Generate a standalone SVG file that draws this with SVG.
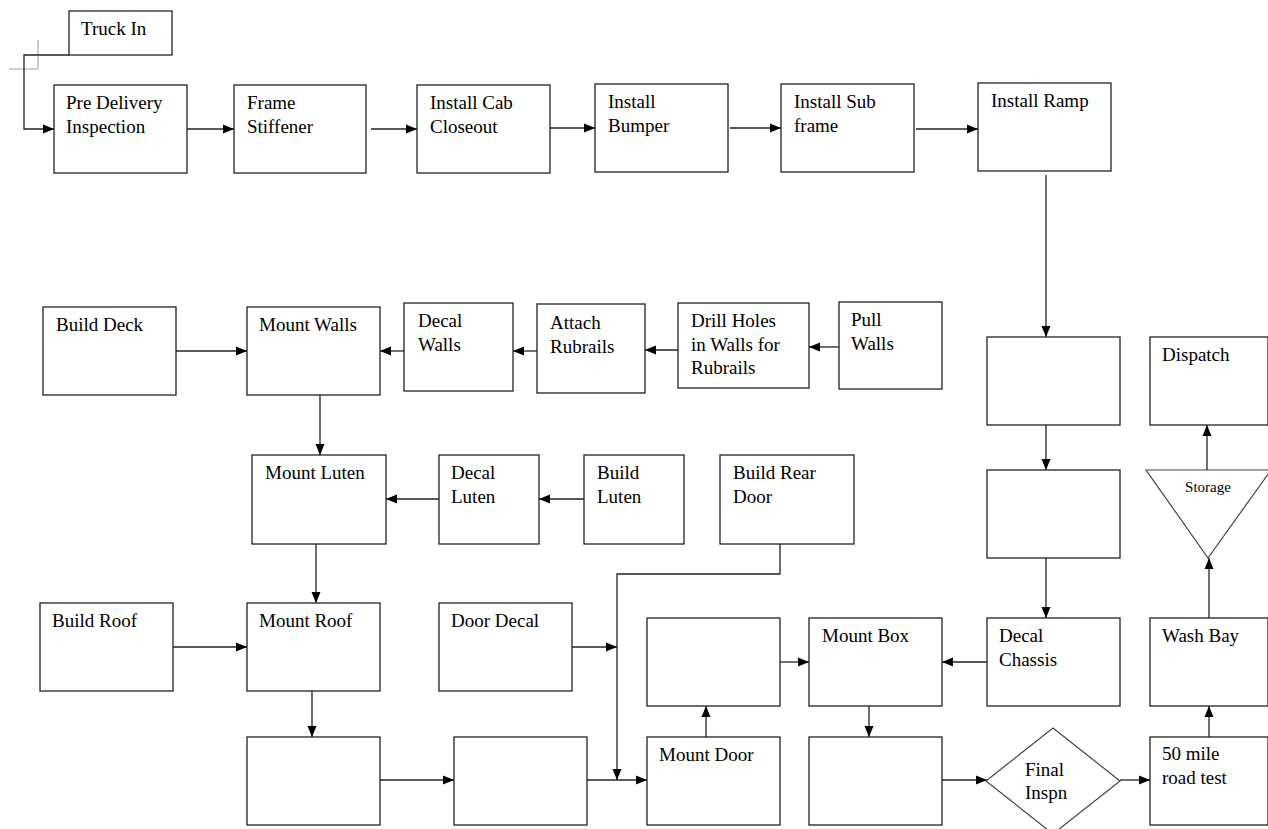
<svg xmlns="http://www.w3.org/2000/svg" width="1268" height="829" viewBox="0 0 1268 829">
<style>
.b{fill:#fff;stroke:#222;stroke-width:1.3}
.s{fill:#fff;stroke:#444;stroke-width:1.2}
.t{font-family:"Liberation Serif","Times New Roman",serif;font-size:19px;fill:#000}
.sm{font-family:"Liberation Serif","Times New Roman",serif;font-size:15px;fill:#000}
.c{fill:none;stroke:#222;stroke-width:1.3}
.g{fill:none;stroke:#999;stroke-width:1}
</style>
<defs>
<marker id="a" markerUnits="userSpaceOnUse" markerWidth="12" markerHeight="10" refX="11" refY="5" orient="auto">
<path d="M0,0.5 L11,5 L0,9.5 Z" fill="#000"/>
</marker>
</defs>
<rect width="1268" height="829" fill="#fff"/>
<path class="g" d="M38,40 V69 H9"/>
<g id="connectors">
<path class="c" marker-end="url(#a)" d="M69,55 H24 V129 H54"/>
<path class="c" marker-end="url(#a)" d="M187,129 H234"/>
<path class="c" marker-end="url(#a)" d="M371,129 H417"/>
<path class="c" marker-end="url(#a)" d="M550,128 H595"/>
<path class="c" marker-end="url(#a)" d="M730,128 H781"/>
<path class="c" marker-end="url(#a)" d="M916,129 H978"/>
<path class="c" marker-end="url(#a)" d="M1046,175 V337"/>
<path class="c" marker-end="url(#a)" d="M1046,425 V470"/>
<path class="c" marker-end="url(#a)" d="M1046,558 V618"/>
<path class="c" marker-end="url(#a)" d="M987,662 H942"/>
<path class="c" marker-end="url(#a)" d="M780,662 H809"/>
<path class="c" marker-end="url(#a)" d="M706,737 V706"/>
<path class="c" marker-end="url(#a)" d="M869,706 V737"/>
<path class="c" marker-end="url(#a)" d="M942,780 H987"/>
<path class="c" marker-end="url(#a)" d="M1120,780 H1150"/>
<path class="c" marker-end="url(#a)" d="M1209,737 V706"/>
<path class="c" marker-end="url(#a)" d="M1209,618 V558"/>
<path class="c" marker-end="url(#a)" d="M1207,470 V425"/>
<path class="c" marker-end="url(#a)" d="M173,351 H247"/>
<path class="c" marker-end="url(#a)" d="M404,351 H380"/>
<path class="c" marker-end="url(#a)" d="M537,351 H513"/>
<path class="c" marker-end="url(#a)" d="M678,350 H645"/>
<path class="c" marker-end="url(#a)" d="M839,347 H809"/>
<path class="c" marker-end="url(#a)" d="M320,395 V455"/>
<path class="c" marker-end="url(#a)" d="M439,499 H386"/>
<path class="c" marker-end="url(#a)" d="M584,499 H539"/>
<path class="c" marker-end="url(#a)" d="M316,544 V603"/>
<path class="c" marker-end="url(#a)" d="M173,647 H247"/>
<path class="c" marker-end="url(#a)" d="M572,647 H617"/>
<path class="c" marker-end="url(#a)" d="M780,544 V574 H617 V780"/>
<path class="c" marker-end="url(#a)" d="M312,691 V737"/>
<path class="c" marker-end="url(#a)" d="M380,780 H454"/>
<path class="c" marker-end="url(#a)" d="M587,780 H647"/>
</g>
<g id="truck-in"><rect class="b" x="69" y="11" width="103" height="44"/><text class="t" x="81" y="35">Truck In</text></g>
<g id="pre-delivery"><rect class="b" x="54" y="85" width="133" height="88"/><text class="t" x="66" y="109">Pre Delivery</text><text class="t" x="66" y="133">Inspection</text></g>
<g id="frame-stiffener"><rect class="b" x="234" y="85" width="132" height="88"/><text class="t" x="247" y="109">Frame</text><text class="t" x="247" y="133">Stiffener</text></g>
<g id="cab-closeout"><rect class="b" x="417" y="85" width="133" height="88"/><text class="t" x="430" y="109">Install Cab</text><text class="t" x="430" y="133">Closeout</text></g>
<g id="bumper"><rect class="b" x="595" y="84" width="133" height="88"/><text class="t" x="608" y="108">Install</text><text class="t" x="608" y="132">Bumper</text></g>
<g id="sub-frame"><rect class="b" x="781" y="84" width="133" height="88"/><text class="t" x="794" y="108">Install Sub</text><text class="t" x="794" y="132">frame</text></g>
<g id="ramp"><rect class="b" x="978" y="83" width="133" height="88"/><text class="t" x="991" y="107">Install Ramp</text></g>
<g id="empty-r1"><rect class="b" x="987" y="337" width="133" height="88"/></g>
<g id="empty-r2"><rect class="b" x="987" y="470" width="133" height="88"/></g>
<g id="decal-chassis"><rect class="b" x="987" y="618" width="133" height="88"/><text class="t" x="999" y="642">Decal</text><text class="t" x="999" y="666">Chassis</text></g>
<g id="mount-box"><rect class="b" x="809" y="618" width="133" height="88"/><text class="t" x="822" y="642">Mount Box</text></g>
<g id="empty-m1"><rect class="b" x="647" y="618" width="133" height="88"/></g>
<g id="mount-door"><rect class="b" x="647" y="737" width="133" height="88"/><text class="t" x="659" y="761">Mount Door</text></g>
<g id="empty-m2"><rect class="b" x="809" y="737" width="133" height="88"/></g>
<g id="final-inspn"><polygon class="s" points="1053,728 1120,781 1053,834 986,781"/><text class="t" x="1025" y="776">Final</text><text class="t" x="1025" y="799">Inspn</text></g>
<g id="road-test"><rect class="b" x="1150" y="737" width="118" height="88"/><text class="t" x="1162" y="760">50 mile</text><text class="t" x="1162" y="784">road test</text></g>
<g id="wash-bay"><rect class="b" x="1150" y="618" width="118" height="88"/><text class="t" x="1162" y="642">Wash Bay</text></g>
<g id="storage"><polygon class="s" points="1146,470 1271,470 1208,558"/><text class="sm" x="1208" y="492" text-anchor="middle">Storage</text></g>
<g id="dispatch"><rect class="b" x="1150" y="337" width="118" height="88"/><text class="t" x="1162" y="361">Dispatch</text></g>
<g id="build-deck"><rect class="b" x="43" y="307" width="133" height="88"/><text class="t" x="56" y="331">Build Deck</text></g>
<g id="mount-walls"><rect class="b" x="247" y="307" width="133" height="88"/><text class="t" x="259" y="331">Mount Walls</text></g>
<g id="decal-walls"><rect class="b" x="404" y="303" width="109" height="88"/><text class="t" x="418" y="327">Decal</text><text class="t" x="418" y="351">Walls</text></g>
<g id="attach-rubrails"><rect class="b" x="537" y="304" width="108" height="89"/><text class="t" x="550" y="329">Attach</text><text class="t" x="550" y="353">Rubrails</text></g>
<g id="drill-holes"><rect class="b" x="678" y="303" width="131" height="85"/><text class="t" x="691" y="327">Drill Holes</text><text class="t" x="691" y="351">in Walls for</text><text class="t" x="691" y="374">Rubrails</text></g>
<g id="pull-walls"><rect class="b" x="839" y="302" width="103" height="87"/><text class="t" x="851" y="326">Pull</text><text class="t" x="851" y="350">Walls</text></g>
<g id="mount-luten"><rect class="b" x="252" y="455" width="134" height="89"/><text class="t" x="265" y="479">Mount Luten</text></g>
<g id="decal-luten"><rect class="b" x="439" y="455" width="100" height="89"/><text class="t" x="451" y="479">Decal</text><text class="t" x="451" y="503">Luten</text></g>
<g id="build-luten"><rect class="b" x="584" y="455" width="100" height="89"/><text class="t" x="597" y="479">Build</text><text class="t" x="597" y="503">Luten</text></g>
<g id="build-rear-door"><rect class="b" x="720" y="455" width="134" height="89"/><text class="t" x="733" y="479">Build Rear</text><text class="t" x="733" y="503">Door</text></g>
<g id="build-roof"><rect class="b" x="40" y="603" width="133" height="88"/><text class="t" x="52" y="627">Build Roof</text></g>
<g id="mount-roof"><rect class="b" x="247" y="603" width="133" height="88"/><text class="t" x="259" y="627">Mount Roof</text></g>
<g id="door-decal"><rect class="b" x="439" y="603" width="133" height="88"/><text class="t" x="451" y="627">Door Decal</text></g>
<g id="empty-b1"><rect class="b" x="247" y="737" width="133" height="88"/></g>
<g id="empty-b2"><rect class="b" x="454" y="737" width="133" height="88"/></g>
</svg>
